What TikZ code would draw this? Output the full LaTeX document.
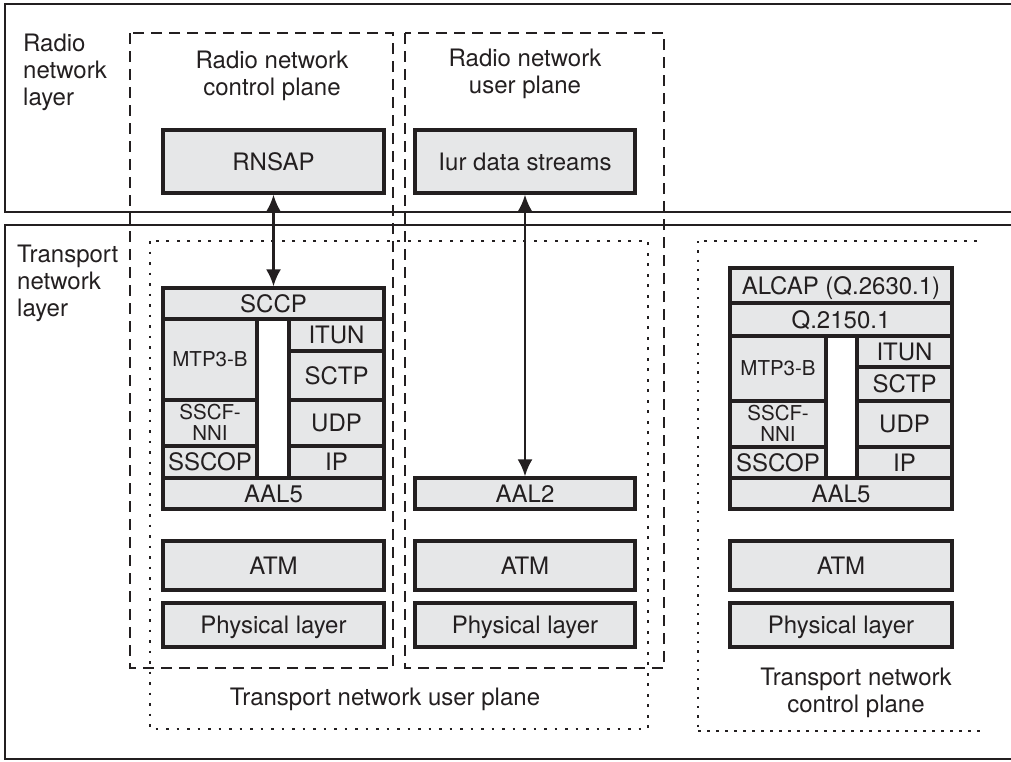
\documentclass[tikz,border=0pt]{standalone}
\usepackage{fontspec}
\setmainfont{TeX Gyre Heros}
\usetikzlibrary{arrows.meta}
\definecolor{ink}{HTML}{231F20}
\definecolor{boxfill}{HTML}{E6E7E8}
\begin{document}
\begin{tikzpicture}[x=1pt,y=-1pt,
  layerbox/.style={draw=ink, fill=boxfill, line width=3.2pt, inner sep=0pt,
    text=ink, font=\fontsize{24}{27}\selectfont, text height=17pt, text depth=0pt},
  smallbox/.style={layerbox, font=\fontsize{20.5}{21}\selectfont, text height=14.7pt},
  twoline/.style={smallbox, align=center, text height=35.7pt, text depth=0pt},
  caption/.style={text=ink, font=\fontsize{24}{27}\selectfont, inner sep=0pt},
  layerline/.style={draw=ink, line width=2.6pt},
  planedash/.style={draw=ink, line width=2.8pt, dash pattern=on 11pt off 7pt},
  planedot/.style={draw=ink, line width=2.8pt, dash pattern=on 2.8pt off 7.7pt},
  finedash/.style={draw=ink, line width=1.3pt, dash pattern=on 3pt off 7pt},
  finedot/.style={draw=ink, line width=2.3pt, dash pattern=on 2.3pt off 7pt},
  link/.style={draw=ink, line width=2.6pt,
    {Latex[length=17pt,width=15pt]}-{Latex[length=17pt,width=15pt]}},
]
\useasboundingbox (0,0) rectangle (1011,761);

% the two network layers (open to the right)
\draw[layerline] (1011,4) -- (5,4) -- (5,212) -- (1011,212);
\draw[layerline] (1011,225) -- (5,225) -- (5,759) -- (1011,759);

% planes
\draw[planedash] (130,33) rectangle (393,668);
\draw[planedash] (405,33) rectangle (664,668);
\draw[planedot] (150,241) rectangle (648,729);
\draw[finedash] (977,241) -- (698,241);
\draw[finedot] (698,241) -- (698,731);
\draw[finedash, line width=1.1pt, dash pattern=on 3pt off 6pt] (698,731) -- (980,731);

% captions (anchored on the baseline of their last line)
\node[caption, anchor=base west, align=left] (rnl) at (23,105) {Radio\\network\\layer};
\node[caption, anchor=base west, align=left] (tnl) at (17,316) {Transport\\network\\layer};
\node[caption, anchor=base, align=center] (rncp) at (272,95) {Radio network\\control plane};
\node[caption, anchor=base, align=center] (rnup) at (525,93) {Radio network\\user plane};
\node[caption, anchor=base, align=center] (tnup) at (385,705) {Transport network user plane};
\node[caption, anchor=base, align=center] (tncp) at (856,712) {Transport network\\control plane};

% radio network layer protocols
\node[layerbox, minimum width=221, minimum height=63] (rnsap) at (273.5,161.5) {RNSAP};
\node[layerbox, minimum width=220, minimum height=63] (iur) at (525,161.5) {Iur data streams};

% transport stack of the control plane
\node[layerbox, minimum width=221, minimum height=31] (sccp) at (273.5,303.5) {SCCP};
\node[smallbox, minimum width=94, minimum height=81] (mtpL) at (210,359.5) {MTP3-B};
\node[layerbox, minimum width=95, minimum height=32] (itunL) at (336.5,335) {ITUN};
\node[layerbox, minimum width=95, minimum height=49] (sctpL) at (336.5,375.5) {SCTP};
\node[twoline, minimum width=94, minimum height=46] (sscfL) at (210,423) {SSCF-\\NNI};
\node[layerbox, minimum width=95, minimum height=46] (udpL) at (336.5,423) {UDP};
\node[layerbox, minimum width=94, minimum height=32] (sscopL) at (210,462) {SSCOP};
\node[layerbox, minimum width=95, minimum height=32] (ipL) at (336.5,462) {IP};
\node[layerbox, minimum width=221, minimum height=31] (aal5L) at (273.5,493.5) {AAL5};
\node[layerbox, minimum width=221, minimum height=49] (atmL) at (273.5,565.5) {ATM};
\node[layerbox, minimum width=221, minimum height=44] (phyL) at (273.5,625) {Physical layer};

% transport stack of the user plane
\node[layerbox, minimum width=220, minimum height=31] (aal2) at (525,493.5) {AAL2};
\node[layerbox, minimum width=220, minimum height=49] (atmM) at (525,565.5) {ATM};
\node[layerbox, minimum width=220, minimum height=44] (phyM) at (525,625) {Physical layer};

% transport network control plane stack
\node[layerbox, minimum width=222, minimum height=35] (alcap) at (841,285.5) {ALCAP (Q.2630.1)};
\node[layerbox, minimum width=222, minimum height=33] (q2150) at (841,319.5) {Q.2150.1};
\node[smallbox, minimum width=96, minimum height=65] (mtpR) at (778,368.5) {MTP3-B};
\node[layerbox, minimum width=95, minimum height=31] (itunR) at (904.5,351.5) {ITUN};
\node[layerbox, minimum width=95, minimum height=34] (sctpR) at (904.5,384) {SCTP};
\node[twoline, minimum width=96, minimum height=46] (sscfR) at (778,424) {SSCF-\\NNI};
\node[layerbox, minimum width=95, minimum height=46] (udpR) at (904.5,424) {UDP};
\node[layerbox, minimum width=96, minimum height=31] (sscopR) at (778,462.5) {SSCOP};
\node[layerbox, minimum width=95, minimum height=31] (ipR) at (904.5,462.5) {IP};
\node[layerbox, minimum width=222, minimum height=31] (aal5R) at (841,493.5) {AAL5};
\node[layerbox, minimum width=222, minimum height=49] (atmR) at (841,565.5) {ATM};
\node[layerbox, minimum width=222, minimum height=44] (phyR) at (841,625) {Physical layer};

% signalling and data links
\draw[link] (rnsap.south) -- (sccp.north);
\draw[link] (iur.south) -- (iur.south |- aal2.north);
\end{tikzpicture}
\end{document}
